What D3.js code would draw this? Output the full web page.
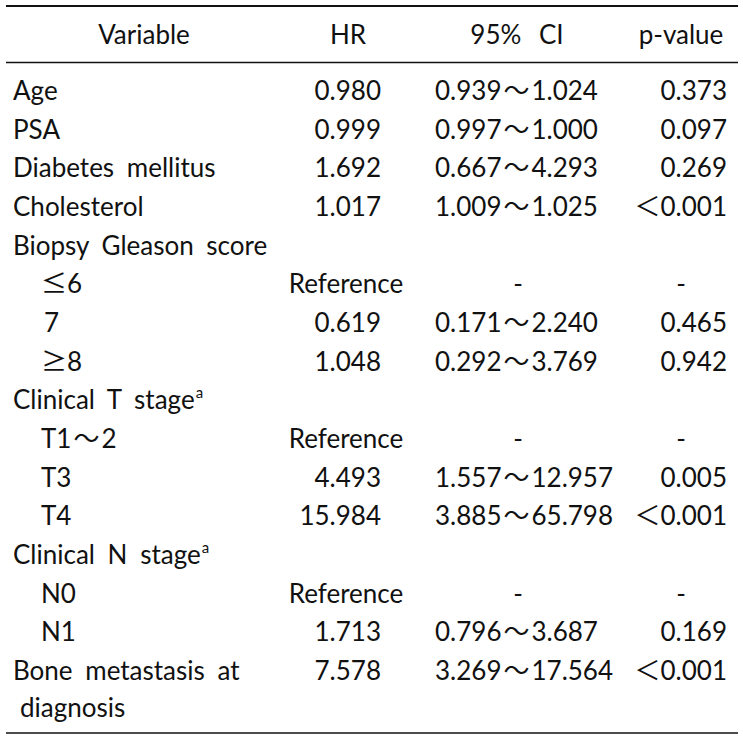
<!DOCTYPE html>
<html>
<head>
<meta charset="utf-8">
<script src="https://cdn.jsdelivr.net/npm/d3@7"></script>
<style>
  html, body { margin: 0; padding: 0; background: #fff; }
  svg { display: block; }
  text { font-family: Lato, "Noto Sans", "Noto Sans CJK KR", sans-serif; fill: #111; }
  .cjk { font-family: "Noto Sans CJK KR", sans-serif; }
</style>
</head>
<body>
<svg id="chart" width="743" height="739"></svg>
<script>
// ---- data ----
const headers = ["Variable", "HR", "95% CI", "p-value"];
const variables = ["Age", "PSA", "Diabetes mellitus", "Cholesterol", "Biopsy Gleason score",
  "≤6", "7", "≥8", "Clinical T stage", "T1～2", "T3", "T4", "Clinical N stage", "N0", "N1",
  "Bone metastasis at", "diagnosis"];
const rowKind = ["main","main","main","main","group","sub","sub","sub","group","sub","sub","sub","group","sub","sub","main","cont"];
const superscripts = ["","","","","","","","","a","","","","a","","","",""];
const hrValues = ["0.980","0.999","1.692","1.017","","Reference","0.619","1.048","","Reference","4.493","15.984","","Reference","1.713","7.578",""];
const ciLow  = ["0.939","0.997","0.667","1.009","","","0.171","0.292","","","1.557","3.885","","","0.796","3.269",""];
const ciHigh = ["1.024","1.000","4.293","1.025","","","2.240","3.769","","","12.957","65.798","","","3.687","17.564",""];
const pValues = ["0.373","0.097","0.269","<0.001","","-","0.465","0.942","","-","0.005","<0.001","","-","0.169","<0.001",""];

// ---- layout ----
const svg = d3.select("#chart");
const fs = 26;
const y = d3.scaleLinear().domain([0, 15]).range([100, 680]);

const lineX0 = 6, lineX1 = 738;
svg.append("line").attr("x1", lineX0).attr("x2", lineX1).attr("y1", 6).attr("y2", 6)
  .attr("stroke", "#111").attr("stroke-width", 2.2);
svg.append("line").attr("x1", lineX0).attr("x2", lineX1).attr("y1", 62.5).attr("y2", 62.5)
  .attr("stroke", "#111").attr("stroke-width", 1.3);
svg.append("line").attr("x1", lineX0).attr("x2", lineX1).attr("y1", 733).attr("y2", 733)
  .attr("stroke", "#111").attr("stroke-width", 1.6);

// header
const headerX = [144, 348, 517, 681];
svg.selectAll("text.hdr").data(headers).join("text")
  .attr("class", "hdr")
  .attr("x", (d, i) => headerX[i]).attr("y", 44)
  .attr("text-anchor", "middle")
  .attr("font-size", fs)
  .attr("word-spacing", 11)
  .text(d => d);

const rows = variables.map((v, i) => ({
  v, kind: rowKind[i], sup: superscripts[i], hr: hrValues[i], lo: ciLow[i], hi: ciHigh[i], p: pValues[i], i
}));

const yRow = d => d.i === 16 ? y(15) + 37 : y(d.i);
const indent = { main: 13, group: 13, sub: 41, cont: 20 };

function addTilde(t, a, b) {
  t.append("tspan").text(a);
  t.append("tspan").attr("class", "cjk").attr("dx", 2).text("～");
  t.append("tspan").attr("dx", 2).text(b);
}

// variable column
const vt = svg.selectAll("text.var").data(rows).join("text")
  .attr("class", "var")
  .attr("x", d => indent[d.kind] + (d.v === "7" ? 3 : 0))
  .attr("y", yRow)
  .attr("font-size", fs)
  .attr("word-spacing", 6);
vt.each(function (d) {
  const t = d3.select(this);
  const m = d.v.match(/^([≤≥])(.*)$/);
  if (m) {
    t.append("tspan").attr("class", "cjk").text(m[1]);
    t.append("tspan").text(m[2]);
  } else if (d.v.includes("～")) {
    const parts = d.v.split("～");
    addTilde(t, parts[0], parts[1]);
  } else {
    t.append("tspan").text(d.v);
  }
  if (d.sup) t.append("tspan").attr("font-size", 15).attr("dy", -11).attr("dx", 1).text(d.sup);
});

// HR column
svg.selectAll("text.hr").data(rows.filter(d => d.hr)).join("text")
  .attr("class", "hr")
  .attr("x", d => d.hr === "Reference" ? 346 : 381)
  .attr("y", yRow)
  .attr("text-anchor", d => d.hr === "Reference" ? "middle" : "end")
  .attr("font-size", fs)
  .text(d => d.hr);

// CI column
const ciRows = rows.filter(d => d.kind !== "group" && d.kind !== "cont");
svg.selectAll("text.ci").data(ciRows.filter(d => d.lo)).join("text")
  .attr("class", "ci").attr("x", 435).attr("y", yRow)
  .attr("font-size", fs)
  .each(function (d) { addTilde(d3.select(this), d.lo, d.hi); });
svg.selectAll("text.cidash").data(ciRows.filter(d => !d.lo)).join("text")
  .attr("class", "cidash").attr("x", 518).attr("y", yRow)
  .attr("text-anchor", "middle").attr("font-size", fs).text("-");

// p-value column
svg.selectAll("text.pv").data(rows.filter(d => d.p && d.p !== "-")).join("text")
  .attr("class", "pv")
  .attr("x", 727)
  .attr("y", yRow)
  .attr("text-anchor", "end")
  .attr("font-size", fs)
  .each(function (d) {
    const t = d3.select(this);
    if (d.p.startsWith("<")) {
      t.append("tspan").attr("class", "cjk").text("＜");
      t.append("tspan").text(d.p.slice(1));
    } else t.text(d.p);
  });
svg.selectAll("text.pdash").data(rows.filter(d => d.p === "-")).join("text")
  .attr("class", "pdash").attr("x", 681).attr("y", yRow)
  .attr("text-anchor", "middle").attr("font-size", fs).text("-");
</script>
</body>
</html>
